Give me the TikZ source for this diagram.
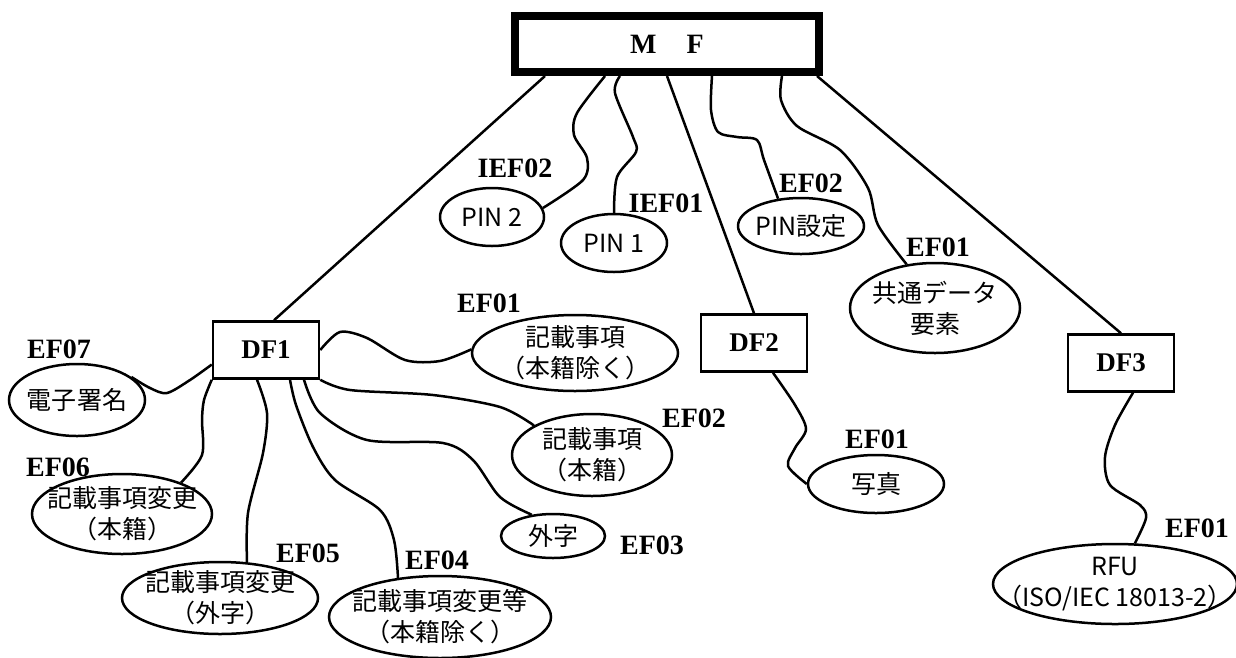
\documentclass[tikz,border=0pt]{standalone}
\usepackage{fontspec}
\setmainfont{Liberation Serif}
\newfontfamily\jpfont{Noto Sans CJK JP}
\usetikzlibrary{shapes.geometric}
\tikzset{
  dfbox/.style={rectangle, draw, line width=2.5pt, minimum width=106, minimum height=57, inner sep=0pt, font=\fontsize{27}{30}\selectfont\bfseries},
  efile/.style={ellipse, draw, line width=2.5pt, inner sep=0pt},
  eftext/.style={font=\fontsize{25}{31}\selectfont\jpfont, align=center, inner sep=0pt},
  eflabel/.style={font=\fontsize{28}{30}\selectfont\bfseries, inner sep=0pt},
  link/.style={line width=2.5pt, line join=round},
}

\begin{document}
\begin{tikzpicture}[x=1pt, y=-1pt]
    \useasboundingbox (0,0) rectangle (1236,657);
    % master file
    \node[draw, line width=6pt, minimum width=306, minimum height=58, inner sep=0pt,
          font=\fontsize{28}{30}\selectfont\bfseries] (mf) at (667,44) {M\hspace{30pt}F};
    \draw[line width=1.8pt] ([xshift=7pt,yshift=7pt]mf.south west) rectangle ([xshift=-7pt,yshift=-7pt]mf.north east);

    % dedicated files
    \node[dfbox] (df1) at (266,350) {DF1};
    \node[dfbox] (df2) at (754,343) {DF2};
    \node[dfbox] (df3) at (1121,363) {DF3};

    % elementary files under MF
    \node[efile, minimum width=104, minimum height=58, label={[eftext]center:PIN 2}] (pin2) at (492,217) {};
    \node[efile, minimum width=106, minimum height=58, label={[eftext]center:PIN 1}] (pin1) at (614,243) {};
    \node[efile, minimum width=126, minimum height=56, label={[eftext]center:PIN設定}] (pinset) at (801,226) {};
    \node[efile, minimum width=170, minimum height=90, label={[eftext]center:共通データ\\要素}] (common) at (935,308) {};
    \node[eflabel] (lpin2) at (515,168) {IEF02};
    \node[eflabel] (lpin1) at (666,203) {IEF01};
    \node[eflabel] (lpinset) at (811,183) {EF02};
    \node[eflabel] (lcommon) at (938,247) {EF01};

    % elementary files under DF1
    \node[efile, minimum width=206, minimum height=76, label={[eftext]center:記載事項\\（本籍除く）}] (entry) at (575,353) {};
    \node[efile, minimum width=160, minimum height=82, label={[eftext]center:記載事項\\（本籍）}] (entryhon) at (592,455) {};
    \node[efile, minimum width=104, minimum height=44, label={[eftext]center:外字}] (gaiji) at (553,536) {};
    \node[efile, minimum width=222, minimum height=82, label={[eftext]center:記載事項変更等\\（本籍除く）}] (change) at (440,617) {};
    \node[efile, minimum width=196, minimum height=72, label={[eftext]center:記載事項変更\\（外字）}] (changegai) at (220,598) {};
    \node[efile, minimum width=180, minimum height=80, label={[eftext]center:記載事項変更\\（本籍）}] (changehon) at (122,514) {};
    \node[efile, minimum width=136, minimum height=72, label={[eftext]center:電子署名}] (sign) at (77,400) {};
    \node[eflabel] (lentry) at (489,303) {EF01};
    \node[eflabel] (lentryhon) at (694,418) {EF02};
    \node[eflabel] (lgaiji) at (652,545) {EF03};
    \node[eflabel] (lchange) at (437,560) {EF04};
    \node[eflabel] (lchangegai) at (308,553) {EF05};
    \node[eflabel] (lchangehon) at (58,467) {EF06};
    \node[eflabel] (lsign) at (59,349) {EF07};

    % elementary files under DF2 and DF3
    \node[efile, minimum width=136, minimum height=58, label={[eftext]center:写真}] (photo) at (876,484) {};
    \node[efile, minimum width=244, minimum height=80, label={[eftext]center:RFU\\（ISO/IEC 18013-2）}] (rfu) at (1115,584) {};
    \node[eflabel] (lphoto) at (877,439) {EF01};
    \node[eflabel] (lrfu) at (1197,528) {EF01};

    % links from MF
    \draw[link] ([xshift=-122pt]mf.south) -- ([xshift=8pt]df1.north);
    \draw[link] plot[smooth] coordinates {([xshift=-62pt]mf.south) (577,113) (574,135) (587,158) (583,180) (pin2.10)};
    \draw[link] plot[smooth] coordinates {([xshift=-47pt]mf.south) (615,93) (633,137) (636,152) (617,177) (pin1.north)};
    \draw[link] (mf.south) -- (df2.north);
    \draw[link] plot[smooth] coordinates {([xshift=45pt]mf.south) (711,110) (718,132) (737,137) (757,140) (764,160) (pinset.130)};
    \draw[link] plot[smooth] coordinates {([xshift=115pt]mf.south) (781,100) (797,126) (840,150) (868,188) (878,225) (common.123)};
    \draw[link] ([xshift=150pt]mf.south) -- (df3.north);

    % links from DF1
    \draw[link] plot[smooth] coordinates {(df1.east) (340,332) (367,338) (405,360) (440,361) (entry.178)};
    \draw[link] plot[smooth] coordinates {(df1.south east) (350,390) (433,395) (500,407) (entryhon.153)};
    \draw[link] plot[smooth] coordinates {([xshift=38pt]df1.south) (320,413) (367,440) (443,443) (473,460) (500,497) (gaiji.135)};
    \draw[link] plot[smooth] coordinates {([xshift=24pt]df1.south) (296,405) (313,447) (335,480) (380,510) (394,540) (change.137)};
    \draw[link] plot[smooth] coordinates {([xshift=-9pt]df1.south) (267,413) (263,453) (248,513) (changegai.53)};
    \draw[link] plot[smooth] coordinates {(df1.south west) (204,400) (202,420) (202,455) (changehon.28)};
    \draw[link] plot[smooth] coordinates {(df1.-165) (190,380) (167,393) (150,388) (sign.23)};

    % links from DF2 and DF3
    \draw[link] plot[smooth] coordinates {([xshift=19pt]df2.south) (795,405) (806,429) (795,448) (788,466) (photo.west)};
    \draw[link] plot[smooth] coordinates {([xshift=12pt]df3.south) (1115,425) (1105,457) (1110,485) (1140,505) (1146,518) (rfu.64)};
\end{tikzpicture}
\end{document}
